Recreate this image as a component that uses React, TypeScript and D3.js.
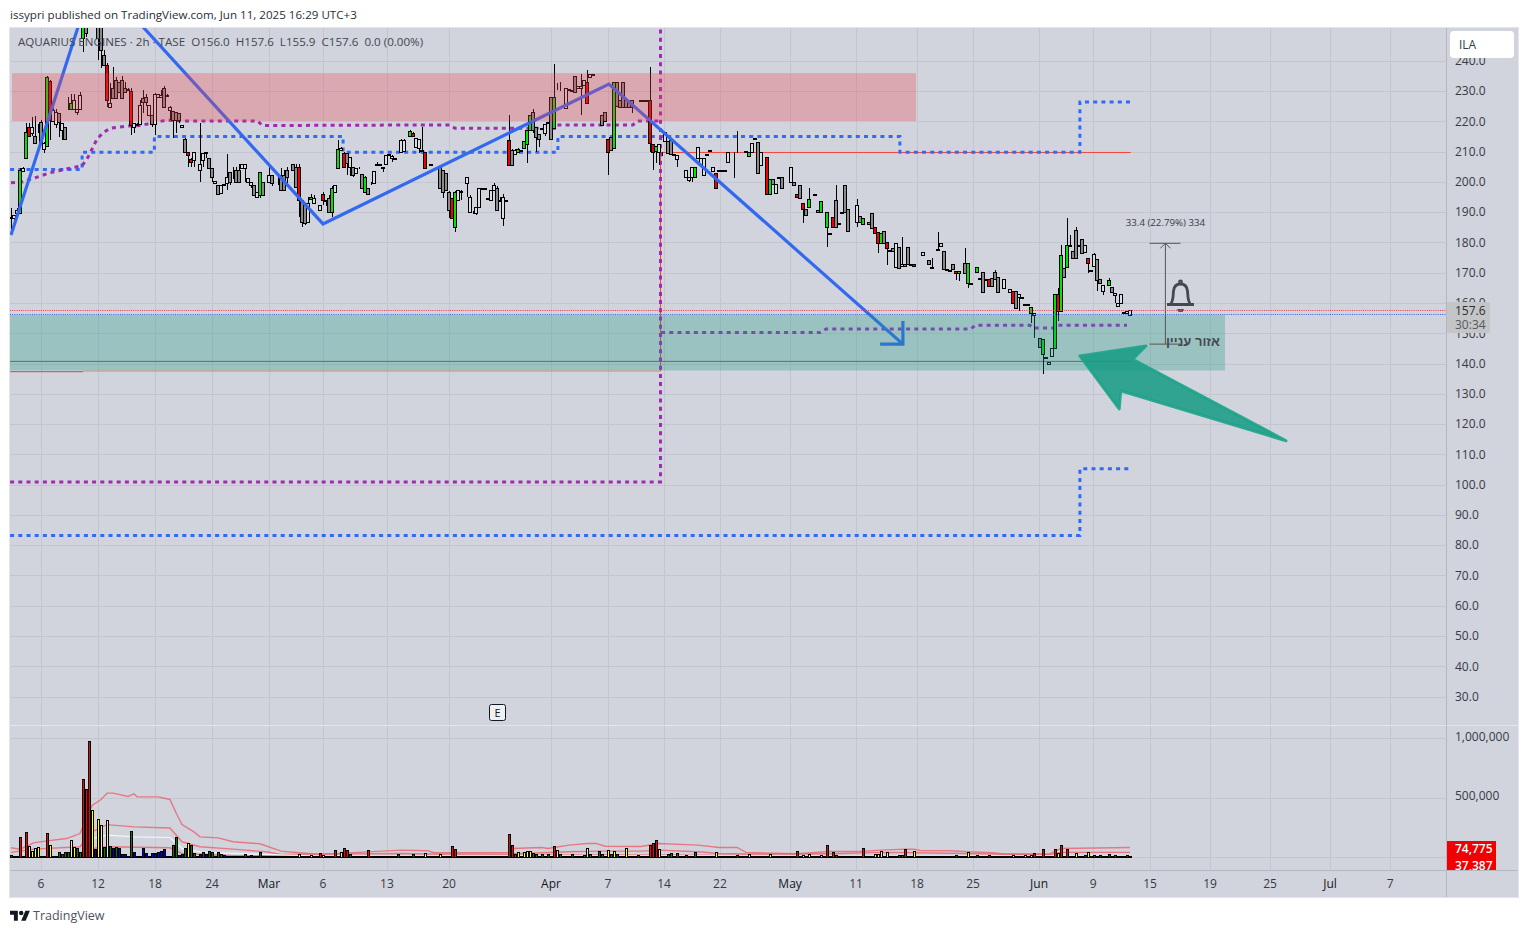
import React from "react";
import * as d3 from "d3";

type Row = [number, string, number, number?, number?, number?];

// [slot, kind, bodyTop, bodyBottom, high, low]  kinds: g green, r red, n gray, w hollow
const febCandles: Row[] = [
[0,"w",188.5,188,191.2,184.1],[1,"w",188.9,188,189,187.4],[2,"w",190.7,189.6,191.5],[3,"g",203.9,189.6,204.5],[4,"w",204.5,203.5,204.8],
[5,"g",216.6,207.8,219.3],[6,"r",218,215.2,219.3,214.9],[7,"w",218,216,221.5,215],[8,"n",215.1,212.9,221.7,212.7],[9,"w",218.2,218,219,216],
[10,"n",219.9,212.7,220.4],[11,"w",212.9,211,213.3,209.4],[12,"g",234.7,211.8,234.9,211.6],[13,"r",233.3,220.4,233.6,213.8],[14,"w",223.7,220.2,224.3,219.9],
[15,"w",223.2,219.1,224,217.7],[16,"n",222.6,219.9,222.6,214.9],[17,"w",219.5,217.1,219.5,213.8],[18,"n",218.2,214,218.2,213.8],[19,"w",224.2,224,228,223.7],
[20,"g",225.9,224,229],[21,"w",227,224,229,223.7],[22,"w",224,223.2,224,222.1],[23,"w",228.7,224,229.8],[24,"g",251.2,247.4,252,243],
[25,"n",251,249,253,247.7],[29,"n",251,247.4,253,240.2],[30,"n",251,243.5,253,237.5],[31,"n",241.9,238.6,243.5],[32,"r",238.6,227,239.1,224.8],
[33,"w",225.9,224.8,232.5],[34,"n",230.9,227.6,238],[35,"n",233.6,227.6,234.7],[36,"n",233,229.8],[37,"n",233.6,227.6,235],[38,"n",230.9,229.8,233],
[39,"w",230.5,230.2,231,230],[40,"r",230.1,218.8,230.9,215.5],[41,"w",219.3,218.2,219.3,216],[42,"w",219.1,218.9,219.3,218.8],[43,"w",225.4,219.1,227],
[44,"n",227.8,226.5,230.3,222.6],[45,"n",228.1,226.5,229,225],[46,"w",225.4,222.1],[47,"n",222.1,219.1,222.1,218.2],[48,"w",228.9,219,229.2,215.5],
[49,"w",228.9,228.1],[50,"w",228.7,227.9,230.3],[51,"n",230.9,224.8,231.7],[52,"w",228.7,228.5,229,228],[53,"w",224.6,223.7,225,220.4],
[54,"n",223.4,220.4,223.4,214.4],[55,"n",223.1,220.4,223.1,216],[56,"n",222.6,220.4,222.6,219.3],[57,"w",218.7,218.1],[58,"n",214,209.9,214.4,209.4],
[59,"r",209.9,208.9,210,205],[60,"r",207.4,206.6,208,205],[61,"w",209.9,207.2,210,205],[63,"w",205.9,203.9,219.5,200.1],[64,"w",209.6,207.2,209.6,205],
[65,"w",209.7,209.4,210,208],[66,"n",207.8,204.7],[67,"n",204.7,201.7,204.7,200.1],[68,"w",200.4,199.7],[69,"n",199,195.9],[70,"w",199,196.2,199,195.9],
[71,"w",199.3,199.1],[72,"w",201.7,199.7,209.2,197.3],[73,"n",203.4,200.1,203.4,199],[74,"w",201.7,201.5,205,201],[75,"n",203.9,200.1,205,200],
[76,"n",203.9,200.1,206,199.5],[77,"w",205.9,204.5],[78,"w",205.9,204.5,205.9,200],[79,"w",201.2,200.1],[80,"w",200.1,199,200.1,198],[81,"n",199,195.6],
[82,"w",196.7,195,196.7,194.5],[83,"g",203.1,195.6,203.1,194.5],[84,"n",200.1,195.6],
];
const marCandles: Row[] = [
[86,"w",202.2,200.1,206],[87,"n",202.2,199.7,202.2,198.7],[89,"w",201.7,201.5,202,199],[90,"n",202.2,197.3,204.5],[91,"n",202.2,197.3,204],[92,"n",203.9,201.7,205,199],
[94,"n",205.9,203.9],[95,"n",205,198.4,205.9],[96,"r",205,194,205.9,188.5],[97,"n",194,186.8,194,185],[98,"n",192.3,186.3,192.3,185.8],[99,"w",192.9,186.8,195],
[100,"g",195,194.3,196,194],[101,"w",194.5,192.9,195.5],[103,"w",192.3,190.7,192.5],[104,"r",195.9,194,196.5,192.5],[105,"w",194,193.8,194,192],[106,"n",194.5,190.1,195.5],
[107,"g",197.8,189.9,198.5,188.5],[108,"w",199,196.8],[109,"g",210.7,204.5,213.8],[110,"w",211.1,210.5,211.5],[111,"r",209.4,204.8,210],[112,"n",209.4,206.1,209.5,202.3],
[113,"w",208.3,205,208.3,202],[114,"n",205,202.3,205,201.5],[115,"w",204.7,202.8],[116,"w",204.7,204.5,205,204.4],[117,"n",202.6,197.8],[118,"g",201.7,196.8,202],
[119,"n",197.8,195.9],[120,"w",199.7,199.5,199.8,199],[121,"w",203.7,199.7],[122,"w",205.9,205.7,206.5,205.5],[123,"w",205.8,205.6],[124,"w",204.8,204.6,205,203.4],
[125,"w",208.9,205.8,209],[126,"w",209.2,209],[127,"w",208.6,208,208.8,206.5],[128,"w",207.8,207.6],[129,"w",210,209.8],[130,"w",213.8,210,214],[131,"w",213.8,210.3,214],
[132,"w",211,210.8],[133,"g",216.9,215.1,217],[134,"r",216,215.1,216.5],[135,"w",214.4,211.6],[136,"w",214.1,211.1,214.1,209.5],[137,"w",210.5,210.3,218,210],
[138,"r",209.9,204.7,210],[139,"w",205.6,205.4],[140,"w",205.9,205.7],[143,"n",205,197.8,205.5],[144,"n",203.9,196.8,204,194.5],[145,"n",202.8,197.3,203],
[146,"n",196.8,190.7,197,188],[147,"r",194.5,187.9],[148,"g",196.8,185.2,197,183.3],[149,"w",197.3,194],[150,"w",197,196.8,197.2,194],[151,"w",196.4,196.2],
[152,"w",201.7,199.7,201.7,195],[153,"w",195,190.1,195.5],[154,"w",190.2,190,190.4,189.5],[155,"w",191.8,189.6,191.8,189],[156,"w",197.8,191.8,197.9],[157,"w",197.9,197.7],
[158,"w",197.9,197.7],[159,"w",194.6,194.4],[160,"w",197.3,194,197.4],[161,"w",199,197.3,199.5],[162,"n",197.8,190.7,198.5],[163,"w",194,193.8,195,193.6],
[164,"w",195.1,188.1,196,185.5],[165,"w",194,193.8],[166,"r",213.8,205.6,222],[167,"n",210.5,205.6,210.7],[168,"w",210.5,209.2,210.7],[169,"g",211,209.9,211.2],
[170,"w",210.5,210.3],[171,"g",213.6,211.1],[172,"g",217.1,212.4,217.1,206.3],[173,"g",222.1,217.1],[174,"n",223.2,217.1,224.2,216],[175,"n",218.2,214.9,218.2,210],
[176,"n",215.8,214,215.8,211.6],[177,"w",217.7,217.5],[178,"w",219.1,216,219.1,215],[179,"w",219.6,219.4],
];
const aprCandles: Row[] = [
[180,"n",228.1,214],[181,"g",228.1,217.7,238.9],[182,"w",230.4,230.2,232.8],[183,"w",230.1,229.9,232.9],[184,"w",230.1,229.9],[185,"w",230.9,224.3],[186,"w",230.6,230.4],
[187,"w",230.3,230.1],[188,"n",235,229.8],[189,"w",231.7,230.9],[190,"w",231.7,230.9,235.5,222],[191,"w",233.6,232],[192,"r",232.9,225.9,236.9],[193,"w",235.5,234.7],
[194,"w",235.6,235.4],[195,"w",221.9,221.7],[196,"w",221.9,221.7],[197,"n",222.1,218.8],[198,"n",223,220.2],[199,"r",214,210,214,202.3],[200,"n",214.7,210.5],
[201,"g",232.9,211.1,233],[202,"n",233,225],[203,"n",227,224.8],[204,"n",232.9,224.8],[205,"n",227,224.8],[206,"n",226.5,224.8],[207,"n",227,224.8,227,222.6],
[209,"w",220.2,220],[210,"w",227,226.8],[211,"w",227,226.8],[212,"w",227,226.8],[213,"r",227,212.7,238,210],[214,"r",212.4,210,212.4,203.9],[215,"g",211.9,210.2,211.9,206.1],
[216,"w",212.5,210,212.5,205.6],[217,"w",210,209.8,210,208.6],[218,"w",216.6,213.6],[219,"n",213.6,209.6],[220,"n",213.8,209.2],[221,"w",209.1,208.9],
[222,"w",208.9,207.4,208.9,205],[224,"w",201.7,201.5],[225,"w",203.9,201.7],[226,"w",201.7,200.6,201.7,200],[227,"w",205,201.7,205,199.8],[228,"g",204.8,201.7],
[229,"w",211.4,207.8],[230,"w",207.8,205.6],[231,"w",207.8,202.3],[232,"w",209.1,208.9],[233,"w",210.5,210.3],[234,"w",204.8,203.7],[235,"r",202.8,197.9],
[236,"w",203.9,203.7],[237,"w",203.9,203.7],[238,"w",203.9,203.7],[239,"w",210,206.7],[241,"w",210,209.8,210,201.4],[242,"w",210,209.8,216.8,209.4],[243,"w",210,209.8],
[245,"w",210.2,210],[246,"g",210,208.6],[247,"w",212.7,210],[248,"w",214.4,214.2],[249,"n",213,202.8],[250,"w",210,205.6],[252,"r",208.3,195.9],[253,"g",200.8,195.9],
[254,"n",200.8,199.2],[255,"w",199.2,196.2],[256,"w",201.5,201.3],[257,"n",201.5,197.9],[259,"w",200.1,199.9],
];
const mayCandles: Row[] = [
[260,"w",204.8,200.1],[261,"n",200.1,199],[262,"r",195.9,194.9],[263,"n",199,194.6],[264,"r",192.9,190.9,192.9,186.5],[265,"n",190.9,188.9],[266,"g",194.2,191.8,197.9],
[268,"w",196,195.8],[269,"n",190.7,189.9],[270,"g",193.8,189.9],[272,"g",189.9,185.2,189.9,178.4],[273,"w",183,182.8],[274,"r",188.5,185],[275,"n",194,185,199],[276,"w",186.3,186.1],
[277,"w",189.9,189.7],[278,"n",199,189.9],[279,"n",190.9,183.9],[282,"w",192.3,186.8,194.2,185.2],[283,"n",188.8,186.8],[284,"g",187.9,186],[286,"n",186.8,186],[287,"n",189.6,184.9],
[288,"r",185.2,183],[289,"r",183.3,179.7,183.3,176.4],[290,"g",183,179.7],[291,"n",183.9,179.7],[292,"r",180,178,180,172.5],[293,"w",177.5,177.3],[294,"n",178,177.2],
[295,"w",179.9,172],[296,"n",178.6,171.4],[297,"w",173,172.2,181.9],[298,"g",173,172.2],[299,"n",178.6,173],[300,"w",173,172.5],[301,"r",173,172.2],[302,"w",176.9,176.7],
[303,"w",176.9,176.7],[304,"w",176.7,176],[305,"w",176.9,176.7],[306,"n",174.2,172.9],[307,"w",172,171.4,174.7],[308,"w",172.3,172.1],[309,"w",177.7,177.5,183.5],
[310,"w",179.7,178.9],[311,"n",177.1,171.1],[312,"w",171.1,170.9],[313,"w",170.9,170.7],[314,"n",172.7,171.1],[315,"r",170.7,169.8,170.7,167.6],[316,"g",170.7,169.8,170.7,167.3],
[317,"w",170.7,170.5],[318,"n",173.3,169.8,178],[319,"g",173.1,166.7,173.1,165.1],[320,"w",166.5,166.3],[321,"w",172,171.8],[322,"g",172,170.1],[323,"w",168.1,167.9],
[324,"n",170.1,163.7],[325,"w",167.8,167.6],[326,"r",167.8,165.7],[327,"n",168.4,165.7],[328,"n",170.1,167.8,171],[329,"n",168.7,163.7],[330,"w",168.7,168.5],[331,"w",167.8,164.8],
[332,"w",163,162.8],[333,"w",164.5,163.7],[334,"r",164,159.9],[335,"n",164,158.2],[336,"w",162.8,161.8,162.8,157.3],[337,"w",161.8,161.6],[338,"w",159.6,159.4],
[339,"w",159.6,159.4],[340,"g",158.8,156.8,158.8,153.5],[341,"w",156.8,156,156.8,148.5],
];
const junCandles: Row[] = [
[343,"n",148.3,145.3],[344,"g",148,143,148,136.4],[345,"w",142,141.8],[346,"w",140.6,140],[347,"w",145,142.6],[348,"g",162.8,145.2],[349,"r",162.8,157.4,164.8,154.1],
[350,"g",175.8,157.4,179.1],[351,"n",171.7,168.7],[352,"g",179.1,172,187.9],[353,"w",179.1,178.9,182.4],[354,"n",177.1,175],[355,"n",184.1,175,185],[356,"w",179.1,178.9],
[357,"n",181,176.6],[358,"w",179.1,176.9],[359,"r",174.7,173.1,175,170],[360,"w",170.9,170.7],[361,"w",176.2,172.2,176.6,172.2],[362,"n",174.4,167.6,174.4,164],[363,"n",167.8,166.7],
[364,"w",165.9,164,165.9,162.6],[365,"w",163,162.8],[366,"g",167.6,165.8,168.1],[367,"n",165.4,163.6],[368,"w",163.2,162.6,163.2,159.9],[369,"w",159.9,159],[370,"w",162.8,159.9],
[371,"w",156.9,156.7],[372,"w",157.2,156.8],[373,"w",157.6,156,157.6,155.9],
];

// [slot, colour kind, volume]
const febVolumes: [number, string, number][] = [
[0,"g",19e3],[3,"r",172e3],[5,"r",214e3],[6,"y",97e3],[7,"y",56e3],[8,"y",75e3],[9,"y",89e3],[10,"b",14e3],[11,"b",14e3],[12,"r",208e3],[13,"y",108e3],
[16,"g",42e3],[17,"g",25e3],[18,"g",47e3],[19,"g",42e3],[20,"y",144e3],[21,"y",89e3],[22,"g",83e3],[23,"g",47e3],[24,"r",658e3],[25,"r",575e3],[26,"r",978e3],
[27,"y",400e3],[28,"b",67e3],[29,"y",325e3],[30,"y",275e3],[31,"g",89e3],[32,"y",317e3],[33,"g",97e3],[34,"b",83e3],[35,"g",89e3],[36,"b",81e3],[37,"b",25e3],[38,"b",25e3],
[40,"g",225e3],[41,"b",47e3],[44,"b",75e3],[45,"b",33e3],[47,"b",33e3],[48,"b",33e3],[49,"b",42e3],[50,"b",56e3],[51,"b",67e3],[54,"g",103e3],[55,"g",167e3],[56,"b",19e3],
[57,"b",25e3],[58,"g",75e3],[59,"y",125e3],[60,"g",103e3],[61,"g",33e3],[63,"b",25e3],[64,"g",42e3],[65,"b",25e3],[66,"g",50e3],[67,"g",42e3],[69,"g",42e3],[70,"g",25e3],
[71,"b",19e3],[78,"g",25e3],[80,"b",19e3],[83,"g",42e3],
];
const marVolumes: [number, string, number][] = [
[96,"y",25e3],[100,"y",16e3],[103,"r",33e3],[104,"y",19e3],[108,"r",58e3],[110,"y",42e3],[111,"r",75e3],[112,"r",58e3],[113,"g",25e3],[118,"g",14e3],[119,"r",58e3],
[129,"g",25e3],[133,"g",14e3],[134,"g",25e3],[138,"y",33e3],[143,"y",25e3],[147,"r",92e3],[148,"r",67e3],[166,"r",200e3],[167,"r",100e3],[168,"g",25e3],[169,"y",42e3],
[171,"y",42e3],[172,"y",50e3],[173,"y",50e3],[174,"g",33e3],[175,"g",25e3],[176,"g",14e3],[177,"g",25e3],[178,"g",14e3],[179,"g",25e3],
];
const aprVolumes: [number, string, number][] = [
[181,"r",92e3],[182,"y",58e3],[183,"g",25e3],[187,"g",25e3],[188,"g",14e3],[191,"g",19e3],[192,"y",83e3],[193,"g",25e3],[196,"g",50e3],[197,"g",25e3],[199,"y",58e3],[200,"g",25e3],
[201,"y",50e3],[202,"g",25e3],[203,"g",14e3],[204,"g",14e3],[205,"y",83e3],[209,"g",16e3],[213,"r",100e3],[214,"r",117e3],[215,"r",150e3],[216,"y",67e3],[219,"g",25e3],[220,"g",33e3],
[222,"g",33e3],[225,"g",16e3],[228,"g",42e3],[235,"y",42e3],[242,"g",16e3],[246,"y",25e3],[253,"y",25e3],
];
const mayVolumes: [number, string, number][] = [
[262,"r",50e3],[264,"y",16e3],[266,"y",25e3],[270,"y",16e3],[272,"r",100e3],[274,"r",42e3],[275,"g",16e3],[284,"r",75e3],[288,"y",25e3],[289,"y",25e3],[290,"y",50e3],[292,"y",42e3],
[296,"g",16e3],[297,"g",16e3],[298,"r",67e3],[301,"y",50e3],[315,"g",16e3],[319,"y",42e3],[322,"g",16e3],[326,"g",16e3],[334,"y",16e3],[338,"y",16e3],[340,"y",16e3],[341,"r",33e3],
];
const junVolumes: [number, string, number][] = [
[344,"r",67e3],[348,"r",67e3],[349,"y",33e3],[350,"r",108e3],[352,"r",67e3],[355,"y",33e3],[358,"g",16e3],[359,"y",44e3],[361,"g",16e3],[363,"g",16e3],[366,"g",25e3],[368,"g",16e3],[372,"g",16e3],
];

const volUpper: [number, number][] = [[0,81e3],[3,69e3],[7.5,122e3],[12,139e3],[18.5,158e3],[23,200e3],[27,436e3],[30,486e3],[32,539e3],[34,539e3],[39,511e3],[41,533e3],[42,508e3],[49,508e3],[53,486e3],[55,375e3],[57,275e3],[61,214e3],[63,172e3],[69,164e3],[74,131e3],[83,114e3],[90,53e3],[96,39e3],[103,25e3],[130,61e3],[139,56e3],[141,39e3],[166,42e3],[167,75e3],[177,83e3],[179,75e3],[186,103e3],[192,117e3],[195,117e3],[198,94e3],[210,92e3],[214,108e3],[216,117e3],[229,103e3],[236,83e3],[242,83e3],[245,42e3],[261,30e3],[273,50e3],[283,50e3],[290,61e3],[298,69e3],[301,69e3],[303,58e3],[313,56e3],[319,47e3],[327,39e3],[331,28e3],[346,28e3],[350,75e3],[373,83e3]];
const volMiddle: [number, number][] = [[0,42e3],[7.5,69e3],[23,89e3],[27,214e3],[32,275e3],[41,256e3],[53,247e3],[57,131e3],[63,89e3],[74,69e3],[85,47e3],[90,25e3],[130,33e3],[139,28e3],[166,28e3],[186,47e3],[197,53e3],[210,53e3],[216,61e3],[229,47e3],[236,33e3],[245,28e3],[273,31e3],[290,42e3],[303,39e3],[327,28e3],[346,22e3],[350,42e3],[373,42e3]];
const volLower: [number, number][] = [[27,75e3],[32,89e3],[53,81e3],[57,33e3],[74,14e3],[130,14e3],[200,20e3],[300,14e3],[345,10e3],[373,14e3]];
const volMean: [number, number][] = [[27,158e3],[32,186e3],[41,172e3],[53,167e3],[57,75e3],[63,47e3],[74,33e3],[100,14e3],[200,14e3],[373,14e3]];

const priceTicks = [30,40,50,60,70,80,90,100,110,120,130,140,150,160,170,180,190,200,210,220,230,240];
const volumeTicks = [500000, 1000000];
const timeTickSlots = [10,29,48,67,86,104,125.3,146,180,199,217.7,236.3,259.7,281.7,302,320.7,342.7,360.7,379.7,399.7,419.7,439.7,459.7];
const timeTickLabels = ["6","12","18","24","Mar","6","13","20","Apr","7","14","22","May","11","18","25","Jun","9","15","19","25","Jul","7"];
const monthLabels = ["Mar","Apr","May","Jun","Jul"];

const zigzag: [number, number][] = [[0,182.4],[28,268.5],[104,186.1],[199.3,232.3],[297.3,146.4]];
const zigzagArrow: [number, number][] = [[297.3,154],[297.3,146.4],[289.7,146.4]];
const purpleUpper: [number, number][] = [[0,199.7],[4,200],[7.3,201.1],[13,203],[19.7,204.5],[23.7,205.3],[25.7,208.2],[28.7,214.2],[30.7,216.2],[33,217.7],[38.7,218.4],[43,218.6],[52,220.4],[57.3,220.1],[82.3,220.1],[83.7,218.6],[146.3,218.8],[148,217.7],[181.3,217.7],[182,218.8],[207.3,218.8],[208.7,220.1],[216.5,220.1]];
const purpleDrop: [number, number][] = [[-0.3,100.9],[216.5,100.9],[216.5,252]];
const purpleRight: [number, number][] = [[216.7,150.2],[269.7,150.2],[271.7,151.4],[320,151.4],[321.3,152.6],[339.7,152.6],[340.7,151.7],[348,151.7],[349,152.6],[372,152.6]];
const blueUpper: [number, number][] = [[-0.3,204.1],[23.7,204.1],[23.7,209.8],[47.8,209.8],[47.8,215],[110.7,215],[110.7,209.8],[182.3,209.8],[182.3,215],[296.3,215],[296.3,209.8],[356.3,209.8],[356.3,226.4],[373.3,226.4]];
const blueLower: [number, number][] = [[-0.3,83.2],[356.3,83.2],[356.3,105.2],[373.3,105.2]];
const redStep: [number, number][] = [[216.5,137.5],[216.5,209.7],[373.3,209.7]];
const salmonBase: [number, number][] = [[24,137.5],[216.5,137.5]];
const redBase: [number, number][] = [[-0.3,137.3],[24,137.3]];
const darkLevel: [number, number][] = [[-0.3,140.7],[373.5,140.7]];
const greenArrow: [number, number][] = [[356.3,142.5],[378.3,145.8],[373.9,141.4],[425,114.5],[369.9,131],[369.4,125]];

const W = 1528, H = 933;
const FONT = "'Open Sans','Noto Sans',sans-serif";
const x = d3.scaleLinear().domain([0, 373]).range([11, 1130]);
const y = d3.scaleLinear().domain([140, 230]).range([363.5, 91]);
const vy = d3.scaleLinear().domain([0, 1000000]).range([857.4, 738.2]);
const pl = d3.line<[number, number]>().x((d) => x(d[0])).y((d) => y(d[1]));
const vl = d3.line<[number, number]>().x((d) => x(d[0])).y((d) => vy(d[1]));
const snap = (v: number) => Math.round(v) + 0.5;

const bodyFill: Record<string, string> = { g: "#00e600", r: "#f00000", n: "#8a8a8a", w: "#dcdde2" };
const volFill: Record<string, string> = { g: "#0a7a0a", r: "#ff0000", y: "#ffff22", b: "#0000e0" };

const candles = [...febCandles, ...marCandles, ...aprCandles, ...mayCandles, ...junCandles];
const volumes = [...febVolumes, ...marVolumes, ...aprVolumes, ...mayVolumes, ...junVolumes];

const PANE_L = 10, PANE_R = 1446, PANE_T = 28, PANE_M = 725, PANE_B = 870, FRAME_R = 1518, FRAME_B = 897;
const GRID = "#c3c6cf";
const TXT = "#363a45";

export default function App() {
  const dash = "4 4.2";
  const mx = x(384.8);
  return (
    <svg width={W} height={H} style={{ position: "absolute", left: 0, top: 0, display: "block", background: "#fff" }} fontFamily={FONT}>
      <defs>
        <clipPath id="mainClip"><rect x={PANE_L} y={PANE_T} width={PANE_R - PANE_L} height={PANE_M - PANE_T} /></clipPath>
        <clipPath id="volClip"><rect x={PANE_L} y={PANE_M} width={FRAME_R - PANE_L} height={PANE_B - PANE_M} /></clipPath>
      </defs>
      <text x={10} y={19} fontSize={11.6} fill="#2a2e39">issypri published on TradingView.com, Jun 11, 2025 16:29 UTC+3</text>
      <rect x={9.5} y={27.5} width={FRAME_R - 9} height={FRAME_B - 27} fill="#d1d4dc" stroke="#e3e5eb" />

      {/* grid */}
      {timeTickSlots.map((s, i) => (
        <line key={i} x1={snap(x(s))} x2={snap(x(s))} y1={PANE_T} y2={PANE_B} stroke={GRID} />
      ))}
      {priceTicks.map((p) => (
        <line key={p} x1={PANE_L} x2={PANE_R} y1={snap(y(p))} y2={snap(y(p))} stroke={GRID} />
      ))}
      {[...volumeTicks, 0].map((v) => (
        <line key={v} x1={PANE_L} x2={PANE_R} y1={snap(vy(v))} y2={snap(vy(v))} stroke={GRID} />
      ))}

      <g clipPath="url(#mainClip)">
        <path d={pl(darkLevel)!} fill="none" stroke="#b5483f" />
        <path d={pl(redBase)!} fill="none" stroke="#e2403a" />
        <path d={pl(salmonBase)!} fill="none" stroke="#ec8672" />
        <path d={pl(redStep)!} fill="none" stroke="#f4433a" />
        <path d={pl(blueUpper)!} fill="none" stroke="#2f6bf5" strokeWidth={3} strokeDasharray={dash} />
        <path d={pl(blueLower)!} fill="none" stroke="#2f6bf5" strokeWidth={3} strokeDasharray={dash} />
        <path d={pl(purpleUpper)!} fill="none" stroke="#a02ab0" strokeWidth={3} strokeDasharray={dash} />
        <path d={pl(purpleDrop)!} fill="none" stroke="#a02ab0" strokeWidth={3} strokeDasharray={dash} />
        <path d={pl(purpleRight)!} fill="none" stroke="#a32ac1" strokeWidth={3} strokeDasharray={dash} />

        {/* candles */}
        <g shapeRendering="crispEdges">
          {candles.map(([s, k, top, bottom, high, low]) => {
            const cx = Math.round(x(s));
            const t = top, b = bottom ?? top, hi = high ?? t, lo = low ?? b;
            const yt = Math.round(y(t)) + 0.5, yb = Math.round(y(b)) + 0.5;
            return (
              <g key={s}>
                <line x1={cx + 0.5} x2={cx + 0.5} y1={y(hi)} y2={y(lo)} stroke="#000" />
                <rect x={cx - 1.5} y={yt} width={3} height={Math.max(0, yb - yt)} fill={bodyFill[k]} stroke="#000" />
              </g>
            );
          })}
        </g>

        <path d={pl(zigzag)!} fill="none" stroke="#3369f0" strokeWidth={3.2} strokeLinejoin="miter" />
        <path d={pl(zigzagArrow)!} fill="none" stroke="#3369f0" strokeWidth={3.2} />

        {/* zones */}
        <rect x={x(0.33)} y={y(235.9)} width={x(301.67) - x(0.33)} height={y(220.1) - y(235.9)} fill="rgb(235,65,80)" fillOpacity={0.3} />
        <rect x={x(-0.33)} y={y(156)} width={x(404.67) - x(-0.33)} height={y(137.7) - y(156)} fill="rgb(26,153,133)" fillOpacity={0.3} />

        {/* last price lines */}
        <line x1={PANE_L} x2={PANE_R} y1={310.5} y2={310.5} stroke="#f23645" strokeDasharray="1 1.2" />
        <line x1={PANE_L} x2={PANE_R} y1={314.5} y2={314.5} stroke="#2962ff" strokeDasharray="1 1.2" />

        {/* measure tool */}
        <g stroke="#555" fill="none">
          <line x1={mx} x2={mx} y1={y(179.7)} y2={y(146.4)} />
          <line x1={1149.5} x2={1180.5} y1={y(179.7)} y2={y(179.7)} />
          <line x1={1149.5} x2={1180.5} y1={y(146.4)} y2={y(146.4)} />
          <polyline points={`${mx - 5},${y(179.7) + 5} ${mx},${y(179.7)} ${mx + 5},${y(179.7) + 5}`} />
        </g>
        <text x={mx} y={226} textAnchor="middle" fontSize={9.7} fill={TXT}>33.4 (22.79%) 334</text>

        {/* bell */}
        <g fill="none" stroke="#454850" strokeWidth={2.8} strokeLinejoin="round">
          <path d="M1167 304.5 H1194 M1171 303.5 C1173.5 300 1173 295 1173.5 291 C1174 286.5 1176.5 284 1180.5 284 C1184.5 284 1187 286.5 1187.5 291 C1188 295 1187.5 300 1190 303.5" />
          <circle cx={1180.5} cy={282} r={1} />
        </g>
        <path d="M1177 309 H1184 L1182.5 312 H1178.5 Z" fill="#5c4a4c" />
        <circle cx={1180.5} cy={310.5} r={1} fill="#d84040" />

        <text x={1220} y={346} textAnchor="end" fontSize={13} fontWeight={700} fill="#45484f" fontFamily="'Liberation Sans',sans-serif">אזור עניין</text>

        <polygon points={greenArrow.map((d) => `${x(d[0])},${y(d[1])}`).join(" ")} fill="rgb(20,155,130)" fillOpacity={0.85} stroke="#1ea38a" strokeOpacity={0.9} strokeWidth={3} strokeLinejoin="round" />

        {/* earnings marker */}
        <rect x={489.5} y={704.5} width={16} height={16} rx={2} fill="#eff0f3" stroke="#131722" />
        <text x={497.5} y={716.5} textAnchor="middle" fontSize={11} fill="#131722">E</text>

        <text x={18} y={46} fontSize={11.6} fill="#43464f" style={{ whiteSpace: "pre" }}>AQUARIUS ENGINES · 2h · TASE  O156.0  H157.6  L155.9  C157.6  0.0 (0.00%)</text>
      </g>

      {/* volume pane */}
      <g clipPath="url(#volClip)">
        <path d={vl(volUpper)!} fill="none" stroke="#ee5a64" strokeOpacity={0.75} strokeWidth={1.4} />
        <path d={vl(volMiddle)!} fill="none" stroke="#ee5a64" strokeOpacity={0.75} strokeWidth={1.4} />
        <path d={vl(volLower)!} fill="none" stroke="#ee5a64" strokeOpacity={0.75} strokeWidth={1.4} />
        <path d={vl(volMean)!} fill="none" stroke="#f4f5f7" strokeWidth={1.2} />
        <line x1={x(0) - 1} x2={x(373) + 2} y1={vy(0) - 0.3} y2={vy(0) - 0.3} stroke="#000" strokeWidth={2} />
        <g shapeRendering="crispEdges">
          {volumes.map(([s, k, v]) => {
            const cx = Math.round(x(s));
            const t = Math.round(vy(v)) + 0.5;
            return <rect key={s} x={cx - 0.5} y={t} width={2} height={Math.round(vy(0)) - t} fill={volFill[k]} stroke="#000" />;
          })}
        </g>
      </g>

      {/* axes frame */}
      <line x1={PANE_L} x2={FRAME_R} y1={PANE_M + 0.5} y2={PANE_M + 0.5} stroke="#e3e5eb" />
      <line x1={PANE_L} x2={FRAME_R} y1={PANE_B + 0.5} y2={PANE_B + 0.5} stroke="#b4b7c0" />
      <line x1={PANE_R + 0.5} x2={PANE_R + 0.5} y1={PANE_T} y2={FRAME_B} stroke="#b4b7c0" />

      {/* price axis */}
      {priceTicks.map((p) => (
        <text key={p} x={1455} y={y(p) + 4.3} fontSize={12} fill={TXT}>{d3.format(".1f")(p)}</text>
      ))}
      <rect x={1450} y={31} width={64} height={27} rx={4} fill="#fff" />
      <text x={1459} y={49} fontSize={12} fill={TXT}>ILA</text>
      <path d="M1447 302 H1488 a2 2 0 0 1 2 2 V331 a2 2 0 0 1 -2 2 H1447 Z" fill="#c4c5c6" />
      <text x={1455} y={315} fontSize={12} fill="#2a2e39">157.6</text>
      <text x={1455} y={329} fontSize={12} fill="#54575f">30:34</text>

      {/* volume axis */}
      {volumeTicks.map((v) => (
        <text key={v} x={1455} y={vy(v) + 2.5} fontSize={12} fill={TXT}>{d3.format(",")(v)}</text>
      ))}
      <g clipPath="url(#volClip)">
        <rect x={1447} y={841} width={49} height={30} fill="#f00000" />
        <text x={1455} y={853} fontSize={12} fontWeight={600} fill="#fff">74,775</text>
        <text x={1455} y={870} fontSize={12} fontWeight={600} fill="#fff">37,387</text>
      </g>

      {/* time axis */}
      {timeTickSlots.map((s, i) => {
        const label = timeTickLabels[i];
        return (
          <text key={i} x={x(s)} y={888} textAnchor="middle" fontSize={12} fill={monthLabels.includes(label) ? "#131722" : TXT}
            fontWeight={monthLabels.includes(label) ? 500 : 400}>{label}</text>
        );
      })}

      {/* footer logo */}
      <g transform="translate(10,908.5) scale(0.56)" fill="#131722">
        <path d="M14 22H7V11H0V4h14v18zM28 22h-8l7.5-18h8L28 22z" />
        <circle cx={20} cy={8} r={4} />
      </g>
      <text x={33} y={920} fontSize={12.5} fill="#50535e">TradingView</text>
    </svg>
  );
}
